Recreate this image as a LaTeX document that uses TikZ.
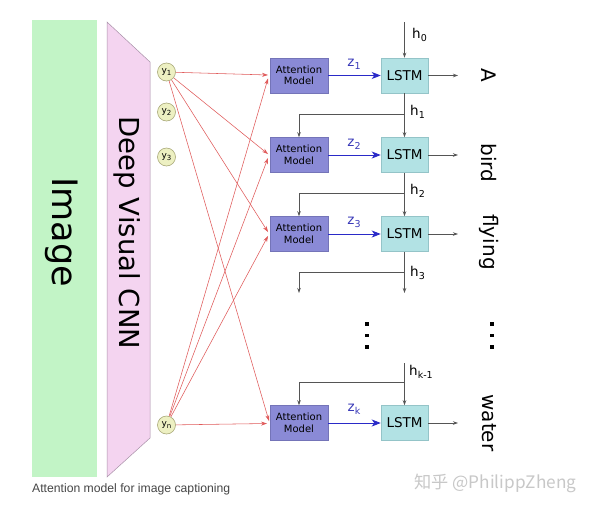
\documentclass[tikz,border=0pt]{standalone}
\usepackage{fontspec}
\setmainfont{DejaVu Sans}
\newfontfamily\capfont{Liberation Sans}
\newfontfamily\cjkfont{Noto Sans CJK SC}
\usetikzlibrary{arrows.meta}
\definecolor{imggreen}{HTML}{C2F4C6}
\definecolor{cnnpink}{HTML}{F4D4F0}
\definecolor{cnnborder}{HTML}{A890A8}
\definecolor{yfill}{HTML}{EDF0C2}
\definecolor{ydraw}{HTML}{A8A878}
\definecolor{attfill}{HTML}{8A8AD6}
\definecolor{attdraw}{HTML}{7474B8}
\definecolor{lstmfill}{HTML}{B2E2E4}
\definecolor{lstmdraw}{HTML}{94C4C8}
\definecolor{redline}{HTML}{E05A5A}
\definecolor{grayline}{HTML}{555555}
\definecolor{blueline}{HTML}{2A2AC8}
\definecolor{zblue}{HTML}{3838B8}
\newcommand\mysub[1]{\raisebox{-0.35ex}{\fontsize{7}{8}\selectfont #1}}
\newcommand\hsub[1]{\raisebox{-0.4ex}{\fontsize{9.5}{10}\selectfont #1}}
\begin{document}
\begin{tikzpicture}[x=1pt,y=-1pt,
  ynode/.style={circle,fill=yfill,draw=ydraw,line width=0.6pt,minimum size=18pt,inner sep=0pt,font=\fontsize{9}{10}\selectfont},
  att/.style={rectangle,fill=attfill,draw=attdraw,line width=0.5pt,minimum width=58pt,minimum height=35pt,inner sep=0pt,align=center,font=\fontsize{10}{11.5}\selectfont},
  lstm/.style={rectangle,fill=lstmfill,draw=lstmdraw,line width=0.5pt,minimum width=47pt,minimum height=35pt,inner sep=0pt,font=\fontsize{13.5}{14}\selectfont},
  redarrow/.style={draw=redline,line width=0.55pt,-{Stealth[length=6pt,width=4pt]}},
  grayarrow/.style={draw=grayline,line width=0.75pt,-{Stealth[length=5pt,width=3.5pt]}},
  bluearrow/.style={draw=blueline,line width=1pt,-{Stealth[length=9pt,width=7pt,inset=2.5pt]}},
  hlabel/.style={anchor=west,inner sep=0pt,font=\fontsize{13.5}{14}\selectfont},
  zlabel/.style={inner sep=0pt,text=zblue,font=\fontsize{13.5}{14}\selectfont},
  word/.style={rotate=-90,inner sep=0pt,font=\fontsize{20}{22}\selectfont},
  dotbox/.style={rectangle,fill=black,minimum size=3.4pt,inner sep=0pt}]
\useasboundingbox (0,0) rectangle (593,509);
\fill[white] (0,0) rectangle (593,509);
% image and CNN
\fill[imggreen] (32,20) rectangle (97,477);
\node[rotate=-90,inner sep=0pt,font=\fontsize{35}{36}\selectfont] (imgtext) at (62,232) {Image};
\filldraw[fill=cnnpink,draw=cnnborder,line width=0.5pt] (107,22) -- (150,62) -- (150,438) -- (107,477) -- cycle;
\node[rotate=-90,inner sep=0pt,font=\fontsize{27.5}{28}\selectfont] (cnntext) at (127,233) {Deep Visual CNN};
% y nodes
\node[ynode] (y1) at (166.5,72) {y\mysub{1}};
\node[ynode] (y2) at (166.5,112) {y\mysub{2}};
\node[ynode] (y3) at (166.5,157) {y\mysub{3}};
\node[ynode] (yn) at (166.5,425) {y\mysub{n}};
% attention and lstm
\node[att] (a1) at (299,75.5) {Attention\\Model};
\node[att] (a2) at (299,155) {Attention\\Model};
\node[att] (a3) at (299,234) {Attention\\Model};
\node[att] (a4) at (299,423) {Attention\\Model};
\node[lstm] (l1) at (404.5,75.5) {LSTM};
\node[lstm] (l2) at (404.5,155) {LSTM};
\node[lstm] (l3) at (404.5,234) {LSTM};
\node[lstm] (l4) at (404.5,423) {LSTM};
% red connections
\coordinate (t1a) at (268,75);
\coordinate (t1b) at (268,78.5);
\coordinate (t2a) at (268,154);
\coordinate (t2b) at (268,158);
\coordinate (t3a) at (268,232);
\coordinate (t3b) at (268,236);
\coordinate (t4a) at (269,421);
\coordinate (t4b) at (267,423.5);
\draw[redarrow] (y1) -- (t1a);
\draw[redarrow] (y1) -- (t2a);
\draw[redarrow] (y1) -- (t3a);
\draw[redarrow] (y1) -- (t4a);
\draw[redarrow] (yn) -- (t1b);
\draw[redarrow] (yn) -- (t2b);
\draw[redarrow] (yn) -- (t3b);
\draw[redarrow] (yn) -- (t4b);
% z arrows
\draw[bluearrow] (a1) -- (l1);
\draw[bluearrow] (a2) -- (l2);
\draw[bluearrow] (a3) -- (l3);
\draw[bluearrow] (a4) -- (l4);
\node[zlabel] (z1) at (354,64) {z\hsub{1}};
\node[zlabel] (z2) at (354,144) {z\hsub{2}};
\node[zlabel] (z3) at (354,222) {z\hsub{3}};
\node[zlabel] (zk) at (354,409) {z\hsub{k}};
% hidden states
\coordinate (h0s) at (404.5,22);
\draw[grayarrow] (h0s) -- (l1);
\node[hlabel] (h0) at (412,35) {h\hsub{0}};
\draw[grayarrow] (l1) -- (l2);
\coordinate (b1) at (404.5,114);
\draw[grayarrow] (b1) -| (a2);
\node[hlabel] (h1) at (410,112) {h\hsub{1}};
\draw[grayarrow] (l2) -- (l3);
\coordinate (b2) at (404.5,193);
\draw[grayarrow] (b2) -| (a3);
\node[hlabel] (h2) at (410,191) {h\hsub{2}};
\coordinate (l3e) at (404.5,293);
\coordinate (a3e) at (299,293);
\coordinate (b3) at (404.5,272);
\draw[grayarrow] (l3) -- (l3e);
\draw[grayarrow] (b3) -| (a3e);
\node[hlabel] (h3) at (410,273) {h\hsub{3}};
\coordinate (hks) at (404.5,363);
\coordinate (bk) at (404.5,382);
\draw[grayarrow] (hks) -- (l4);
\draw[grayarrow] (bk) -| (a4);
\node[hlabel] (hk) at (409,372) {h\hsub{k-1}};
% outputs
\coordinate (o1) at (458,75.5);
\coordinate (o2) at (458,155);
\coordinate (o3) at (458,234);
\coordinate (o4) at (458,423);
\draw[grayarrow] (l1) -- (o1);
\draw[grayarrow] (l2) -- (o2);
\draw[grayarrow] (l3) -- (o3);
\draw[grayarrow] (l4) -- (o4);
\node[word] (w1) at (489,75.5) {A};
\node[word] (w2) at (489,163) {bird};
\node[word] (w3) at (489,242) {flying};
\node[word] (w4) at (489,423) {water};
% dots
\node[dotbox] (d1) at (367,324) {};
\node[dotbox] (d2) at (367,335.5) {};
\node[dotbox] (d3) at (367,347) {};
\node[dotbox] (e1) at (492,324) {};
\node[dotbox] (e2) at (492,335.5) {};
\node[dotbox] (e3) at (492,347) {};
% caption and watermark
\node[anchor=west,inner sep=0pt,text={rgb,255:red,70;green,70;blue,70},font=\capfont\fontsize{12.2}{13}\selectfont] (cap) at (32,489) {Attention model for image captioning};
\node[anchor=west,inner sep=0pt,text={rgb,255:red,200;green,200;blue,200},font=\cjkfont\fontsize{17.2}{18}\selectfont] (wm) at (414,483) {知乎 @PhilippZheng};
\end{tikzpicture}
\end{document}
